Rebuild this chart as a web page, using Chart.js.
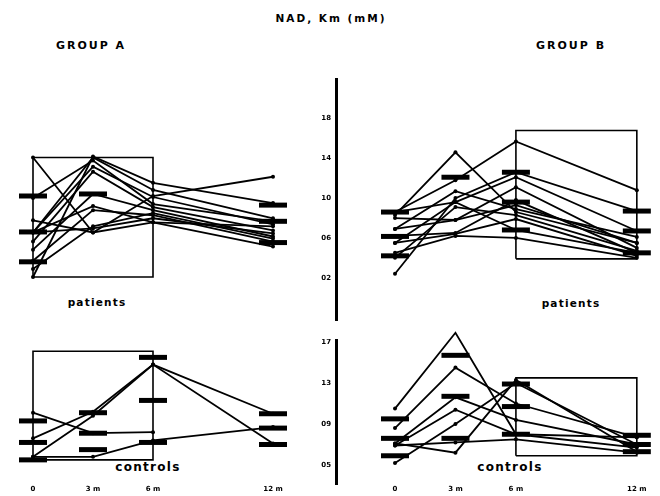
<!DOCTYPE html>
<html><head><meta charset="utf-8">
<script src="https://cdn.jsdelivr.net/npm/chart.js@4.4.1/dist/chart.umd.min.js"></script>
<style>
html,body{margin:0;padding:0;background:#fff;}
#wrap{position:relative;width:660px;height:496px;overflow:hidden;background:#fff;}
canvas{position:absolute;}
.t{position:absolute;font-family:'DejaVu Sans',sans-serif;font-weight:bold;color:#000;white-space:nowrap;transform:translate(-50%,-50%);}
</style></head><body>
<div id="wrap">
  <div class="t" style="left:331px;top:18px;font-size:10.5px;letter-spacing:2px">NAD, Km (mM)</div>
  <div class="t" style="left:91px;top:45px;font-size:11px;letter-spacing:2px">GROUP A</div>
  <div class="t" style="left:571px;top:45px;font-size:11px;letter-spacing:2px">GROUP B</div>
  <div class="t" style="left:97px;top:302px;font-size:10.5px;letter-spacing:1.2px">patients</div>
  <div class="t" style="left:571px;top:303px;font-size:10.5px;letter-spacing:1.2px">patients</div>
  <div class="t" style="left:148px;top:467px;font-size:12px;letter-spacing:1.3px">controls</div>
  <div class="t" style="left:510px;top:467px;font-size:12px;letter-spacing:1.3px">controls</div>
  <canvas id="au" width="300" height="260" style="left:0;top:70px"></canvas>
  <canvas id="bu" width="360" height="260" style="left:300px;top:70px"></canvas>
  <canvas id="al" width="300" height="171" style="left:0;top:325px"></canvas>
  <canvas id="bl" width="360" height="171" style="left:300px;top:325px"></canvas>
</div>
<script>
// ---- data ----
const months = [0, 3, 6, 12];
const monthLabels = ['0', '3 m', '6 m', '12 m'];
const upperTicks = [0.2, 0.6, 1.0, 1.4, 1.8];
const upperTickLabels = ['02', '06', '10', '14', '18'];
const lowerTicks = [0.5, 0.9, 1.3, 1.7];
const lowerTickLabels = ['05', '09', '13', '17'];

const patientsA = [
  [1.38, 0.64, 0.74, 0.70],
  [0.20, 1.39, 1.13, 0.93],
  [0.64, 1.38, 1.06, 0.78],
  [0.64, 1.29, 0.99, 0.72],
  [0.98, 1.35, 0.92, 0.75],
  [0.47, 1.02, 0.86, 0.60],
  [0.36, 0.86, 0.81, 0.55],
  [0.64, 0.68, 0.78, 0.63],
  [0.76, 0.64, 1.00, 1.19],
  [0.55, 1.24, 0.89, 0.66],
  [0.64, 0.90, 0.74, 0.50],
  [0.28, 0.70, 0.83, 0.58]
];
const patientsB = [
  [0.86, 1.18, 1.57, 1.08],
  [0.83, 1.46, 0.86, 0.55],
  [0.24, 1.00, 1.26, 0.87],
  [0.55, 0.96, 1.21, 0.67],
  [0.69, 1.07, 0.89, 0.61],
  [0.80, 0.78, 1.11, 0.50],
  [0.62, 0.65, 0.98, 0.45],
  [0.40, 0.91, 0.83, 0.47],
  [0.55, 0.64, 0.79, 0.42],
  [0.86, 0.96, 0.68, 0.45],
  [0.45, 0.62, 0.60, 0.40],
  [0.69, 0.78, 0.93, 0.55]
];
const controlsA = [
  [0.76, 1.02, 1.48, 1.00],
  [0.58, 0.98, 1.48, 0.71],
  [1.01, 0.81, 0.82, null],
  [0.58, 0.58, 0.74, 0.87]
];
const controlsB = [
  [1.05, 1.79, 0.80, 0.77],
  [0.86, 1.45, 1.10, 0.77],
  [0.71, 1.16, 0.94, 0.70],
  [0.69, 1.04, 0.80, 0.67],
  [0.52, 0.90, 1.30, 0.70],
  [0.71, 0.62, 1.33, 0.63],
  [0.69, 0.72, 0.75, 0.62]
];
// mean and mean +/- SD markers: [month, value]
const barsPatientsA = [[0,1.00],[0,0.645],[0,0.35],[3,1.02],[12,0.91],[12,0.75],[12,0.54]];
const barsPatientsB = [[0,0.86],[0,0.615],[0,0.42],[3,1.21],[6,1.26],[6,0.96],[6,0.68],[12,0.87],[12,0.67],[12,0.45]];
const barsControlsA = [[0,0.93],[0,0.72],[0,0.55],[3,1.01],[3,0.81],[3,0.65],[6,1.55],[6,1.13],[6,0.72],[12,1.00],[12,0.86],[12,0.70]];
const barsControlsB = [[0,0.95],[0,0.76],[0,0.59],[3,1.57],[3,1.17],[3,0.76],[6,1.29],[6,1.07],[6,0.80],[12,0.79],[12,0.70],[12,0.63]];
// range boxes: [month from, month to, low, high]
const boxPatientsA = [0, 6, 0.20, 1.38];
const boxPatientsB = [6, 12, 0.39, 1.68];
const boxControlsA = [0, 6, 0.55, 1.61];
const boxControlsB = [6, 12, 0.59, 1.35];

// ---- chart building ----
const FONT = 'DejaVu Sans';
function datasets(subjects, bars, box) {
  const ds = [];
  ds.push({
    type: 'scatter', showLine: true, clip: false,
    data: [{x:box[0],y:box[2]},{x:box[0],y:box[3]},{x:box[1],y:box[3]},{x:box[1],y:box[2]},{x:box[0],y:box[2]}],
    borderColor: '#000', borderWidth: 1.6, pointRadius: 0, pointHoverRadius: 0, fill: false, tension: 0
  });
  subjects.forEach(s => {
    ds.push({
      type: 'scatter', showLine: true, clip: false,
      data: months.map((m, i) => ({x: m, y: s[i]})).filter(p => p.y !== null),
      borderColor: '#000', borderWidth: 1.8, pointRadius: 2,
      pointBackgroundColor: '#000', pointBorderWidth: 0, tension: 0
    });
  });
  ds.push({
    type: 'scatter', showLine: false, clip: false,
    data: bars.map(b => ({x: b[0], y: b[1]})),
    pointStyle: 'line', pointRadius: 14, pointBorderWidth: 5, borderColor: '#000'
  });
  return ds;
}
function xScale(min, max, withLabels) {
  const s = {type: 'linear', min, max, display: !!withLabels};
  if (withLabels) {
    Object.assign(s, {
      border: {display: false}, grid: {display: false, drawTicks: false},
      afterBuildTicks: sc => { sc.ticks = months.map(v => ({value: v})); },
      afterFit: sc => { sc.height = 12; },
      ticks: {autoSkip: false, maxRotation: 0, padding: 1, color: '#000',
        font: {family: FONT, size: 7, weight: 'bold'},
        callback: (v, i) => monthLabels[i]}
    });
  }
  return s;
}
function yScale(min, max, ticks, labels) {
  const s = {type: 'linear', min, max, display: !!ticks};
  if (ticks) {
    Object.assign(s, {
      position: 'left',
      border: {display: true, color: '#000', width: 3},
      grid: {display: false, drawTicks: false},
      afterBuildTicks: sc => { sc.ticks = ticks.map(v => ({value: v})); },
      afterFit: sc => { sc.width = 36; },
      ticks: {autoSkip: false, padding: 5, color: '#000',
        font: {family: FONT, size: 7, weight: 'bold'},
        callback: (v, i) => labels[i]}
    });
  }
  return s;
}
function make(id, ds, xs, ys, padding) {
  return new Chart(document.getElementById(id), {
    type: 'scatter',
    data: {datasets: ds},
    options: {
      responsive: false, animation: false, devicePixelRatio: 1,
      layout: {padding, autoPadding: false},
      plugins: {legend: {display: false}, tooltip: {enabled: false}},
      scales: {x: xs, y: ys}
    }
  });
}
const upperMin = -0.2247, upperMax = 2.195;
const lowerMin = 0.3146, lowerMax = 1.7195;
make('au', datasets(patientsA, barsPatientsA, boxPatientsA),
  xScale(-1.65, 13.35, false), yScale(upperMin, upperMax), {top: 5, bottom: 10, left: 0, right: 0});
make('bu', datasets(patientsB, barsPatientsB, boxPatientsB),
  xScale(-2.928, 13.15, false), yScale(upperMin, upperMax, upperTicks, upperTickLabels), {top: 5, bottom: 10, left: 0, right: 0});
make('al', datasets(controlsA, barsControlsA, boxControlsA),
  xScale(-1.65, 13.35, true), yScale(lowerMin, lowerMax), {top: 15, bottom: 0, left: 0, right: 0});
make('bl', datasets(controlsB, barsControlsB, boxControlsB),
  xScale(-2.928, 13.15, true), yScale(lowerMin, lowerMax, lowerTicks, lowerTickLabels), {top: 15, bottom: 0, left: 0, right: 0});
</script>
</body></html>
